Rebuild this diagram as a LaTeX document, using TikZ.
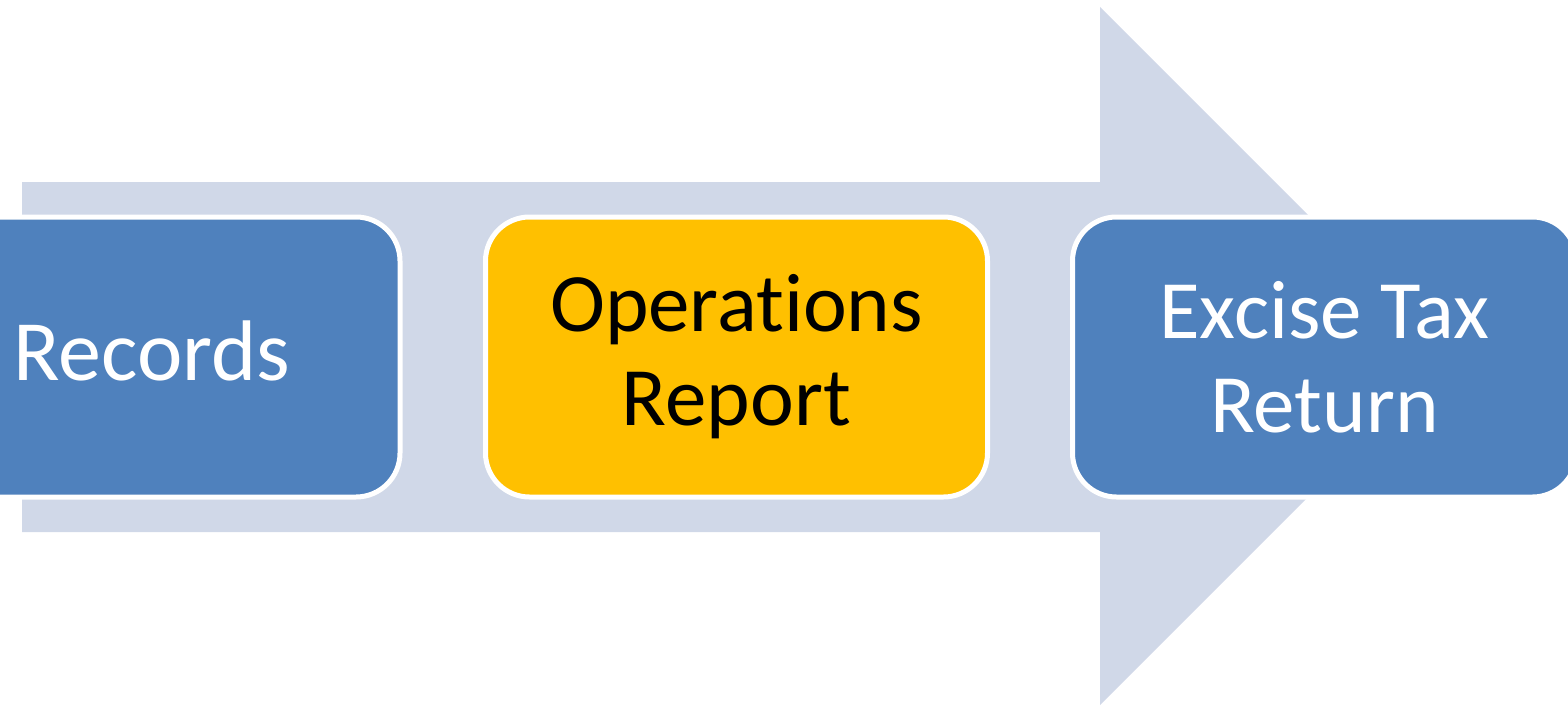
\documentclass[tikz,border=0pt]{standalone}
\usepackage{fontspec}
\setmainfont{Carlito}[Ligatures=NoCommon]
\usetikzlibrary{positioning}
\definecolor{stepblue}{HTML}{4F81BD}
\definecolor{steporange}{HTML}{FFC000}
\definecolor{arrowgray}{HTML}{D0D8E8}
\begin{document}
\begin{tikzpicture}[x=0.5pt,y=-0.5pt,
stage/.style={draw=white, line width=2.5pt, rounded corners=22pt,
minimum width=248pt, minimum height=140pt, inner sep=0pt, outer sep=0pt,
align=center, font=\fontsize{41.5}{47}\selectfont},
blue stage/.style={stage, fill=stepblue, text=white},
gold stage/.style={stage, fill=steporange, text=black}]
\useasboundingbox (0,0) rectangle (1568,706);
\fill[arrowgray] (22,182) -- (1100,182) -- (1100,7) -- (1449,356) --
(1100,705) -- (1100,532) -- (22,532) -- cycle;
\node (REC) [blue stage, font=\fontsize{43}{49}\selectfont] at (152,357)
{\raisebox{3pt}[\height][\depth]{Records}}; \node (OPS) [gold stage,
minimum width=251pt] at (736.5,357) {Operations\\Report}; \node (ETR)
[blue stage, minimum width=252pt] at (1324.5,357) {Excise Tax\\Return};
\end{tikzpicture}
\end{document}
